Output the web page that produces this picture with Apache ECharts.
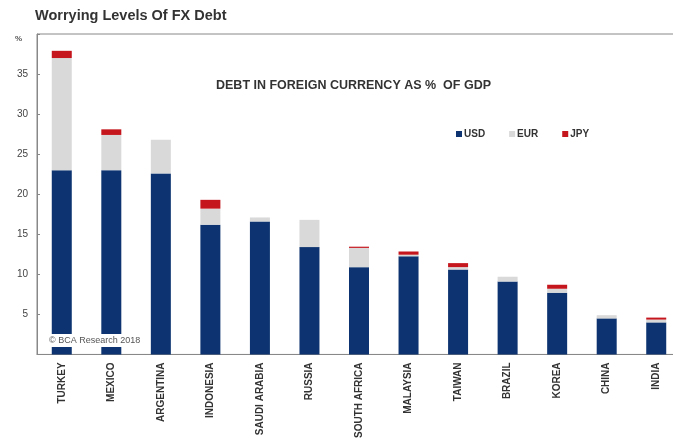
<!DOCTYPE html>
<html>
<head>
<meta charset="utf-8">
<script src="https://cdn.jsdelivr.net/npm/echarts@6/dist/echarts.min.js"></script>
<style>html,body{margin:0;padding:0;background:#fff;overflow:hidden;}#c{width:681px;height:441px;}</style>
</head>
<body>
<div id="c"></div>
<script>
const categories = ['TURKEY','MEXICO','ARGENTINA','INDONESIA','SAUDI ARABIA','RUSSIA','SOUTH AFRICA','MALAYSIA','TAIWAN','BRAZIL','KOREA','CHINA','INDIA'];
const usd = [23.0, 23.0, 22.6, 16.2, 16.6, 13.4, 10.9, 12.25, 10.6, 9.1, 7.7, 4.5, 4.0];
const eur = [14.0, 4.4, 4.2, 2.0, 0.5, 3.4, 2.4, 0.2, 0.3, 0.6, 0.5, 0.4, 0.35];
const jpy = [0.9, 0.7, 0.0, 1.1, 0.0, 0.0, 0.15, 0.4, 0.5, 0.0, 0.5, 0.0, 0.25];
const yTicks = [5, 10, 15, 20, 25, 30, 35];

const chart = echarts.init(document.getElementById('c'));
const sans = '"Liberation Sans", Arial, sans-serif';
chart.setOption({
  animation: false,
  title: [{
    text: 'Worrying Levels Of FX Debt', left: 35, top: 8, padding: 0,
    textStyle: { fontFamily: sans, fontSize: 14.5, fontWeight: 'bold', color: '#333' }
  }, {
    text: 'DEBT IN FOREIGN CURRENCY AS %  OF GDP', left: 216, top: 79, padding: 0,
    textStyle: { fontFamily: sans, fontSize: 12.5, fontWeight: 'bold', color: '#333' }
  }],
  legend: {
    left: 451, top: 124, itemWidth: 6, itemHeight: 6, itemGap: 24,
    icon: 'rect',
    textStyle: { fontFamily: sans, fontSize: 10, fontWeight: 'bold', color: '#333', padding: [0, 0, 0, -3] },
    data: ['USD', 'EUR', 'JPY']
  },
  grid: { left: 37, top: 34, right: 0, bottom: 85, show: true, borderColor: '#888', borderWidth: 1 },
  xAxis: {
    type: 'category', data: categories,
    axisLine: { lineStyle: { color: '#888' } },
    axisTick: { inside: true, length: 3, lineStyle: { color: '#888' } },
    axisLabel: { rotate: 90, fontFamily: sans, fontSize: 10, fontWeight: 'bold', color: '#333', margin: 8 }
  },
  yAxis: {
    type: 'value', min: 0, max: 40, interval: 5,
    splitLine: { show: false },
    axisLine: { show: true, lineStyle: { color: '#888' } },
    axisTick: { show: true, inside: true, length: 3, lineStyle: { color: '#888' } },
    axisLabel: {
      fontFamily: sans, fontSize: 10, color: '#444', margin: 9,
      formatter: v => yTicks.indexOf(v) >= 0 ? String(v) : ''
    }
  },
  series: [
    { name: 'USD', type: 'bar', stack: 'a', data: usd, barWidth: 20, itemStyle: { color: '#0d3470' } },
    { name: 'EUR', type: 'bar', stack: 'a', data: eur, itemStyle: { color: '#d9d9d9' } },
    { name: 'JPY', type: 'bar', stack: 'a', data: jpy, itemStyle: { color: '#c4161c' } }
  ],
  graphic: [{
    type: 'text', left: 47, top: 334, z: 100,
    style: {
      text: '© BCA Research 2018', font: '9px "Liberation Sans", Arial, sans-serif', fill: '#555',
      backgroundColor: '#fff', padding: [2, 2, 2, 2]
    }
  }, {
    type: 'text', left: 15, top: 35, z: 100,
    style: { text: '%', font: 'bold 8px "Liberation Sans", Arial, sans-serif', fill: '#555' }
  }]
});
</script>
</body>
</html>
